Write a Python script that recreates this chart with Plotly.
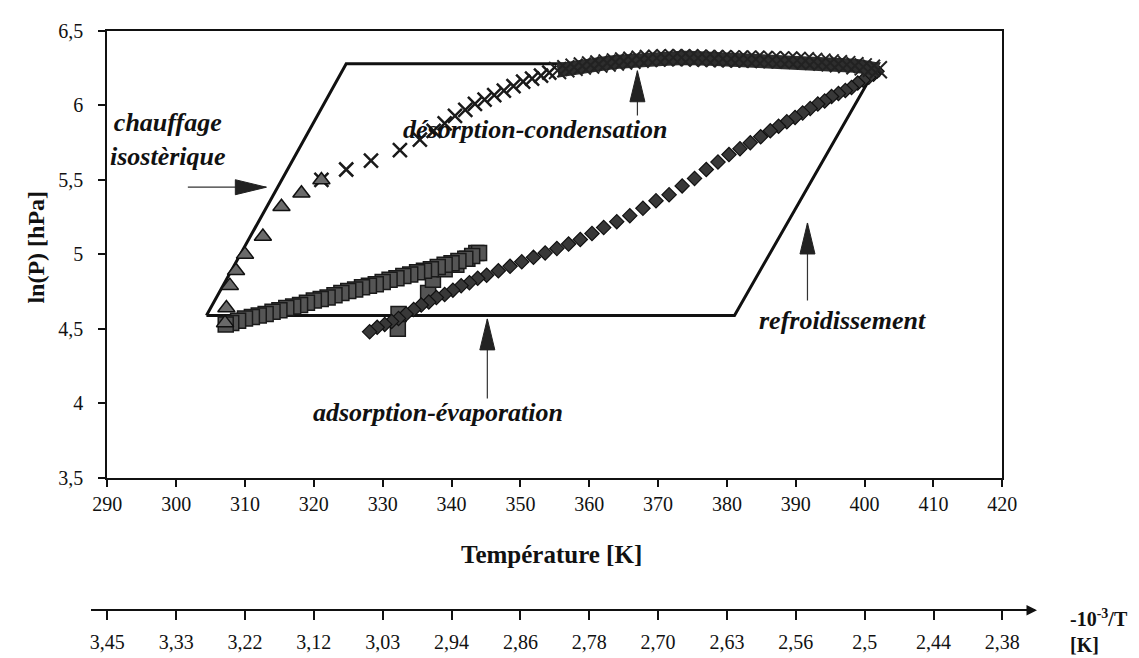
import plotly.graph_objects as go

# ---------------- data ----------------
T_ticks = [290, 300, 310, 320, 330, 340, 350, 360, 370, 380, 390, 400, 410, 420]
invT_labels = ["3,45", "3,33", "3,22", "3,12", "3,03", "2,94", "2,86", "2,78",
               "2,70", "2,63", "2,56", "2,5", "2,44", "2,38"]

# idealised cycle (parallelogram)
cycle_T = [304.4, 324.7, 402.0, 381.1, 304.4]
cycle_lnP = [4.59, 6.28, 6.28, 4.59, 4.59]

# chauffage isostérique (triangles)
tri_T = [307.1, 307.3, 307.8, 308.7, 310.0, 312.6, 315.3, 318.2, 321.1]
tri_lnP = [4.54, 4.64, 4.79, 4.89, 5.00, 5.12, 5.32, 5.41, 5.50]

# désorption-condensation (crosses, sparse part)
cross_T = [321.1, 324.7, 328.3, 332.5, 335.4, 337.4, 339.0, 340.5, 342.0, 343.4,
           344.8, 346.2, 347.6, 349.0, 350.4, 351.7, 353.0, 354.2]
cross_lnP = [5.50, 5.57, 5.63, 5.70, 5.77, 5.83, 5.88, 5.93, 5.97, 6.01,
             6.04, 6.07, 6.10, 6.13, 6.16, 6.18, 6.20, 6.22]

# désorption-condensation (crosses, dense part)
blob_T = [355.4, 356.6, 357.8, 359.0, 360.2, 361.4, 362.6, 363.8, 365.0, 366.2,
          367.4, 368.6, 369.8, 371.0, 372.2, 373.4, 374.6, 375.8, 377.0, 378.2,
          379.4, 380.6, 381.8, 383.0, 384.2, 385.4, 386.6, 387.8, 389.0, 390.2,
          391.4, 392.6, 393.8, 395.0, 396.2, 397.4, 398.6, 399.8, 401.0, 402.0]
blob_lnP = [6.235, 6.247, 6.257, 6.265, 6.272, 6.278, 6.285, 6.292, 6.298, 6.304,
            6.310, 6.315, 6.318, 6.320, 6.321, 6.321, 6.320, 6.318, 6.316, 6.315,
            6.314, 6.313, 6.312, 6.311, 6.310, 6.309, 6.308, 6.306, 6.305, 6.303,
            6.300, 6.296, 6.291, 6.286, 6.280, 6.274, 6.267, 6.259, 6.250, 6.240]

# refroidissement (diamonds)
diam_T = [401.8, 401.3, 400.6, 399.8, 399.0, 398.1, 397.2, 396.2, 395.2, 394.2,
          393.2, 392.1, 391.0, 389.9, 388.7, 387.5, 386.3, 384.9, 383.4, 381.9,
          380.3, 378.7, 377.0, 375.3, 373.5, 371.6, 369.7, 367.8, 365.9, 364.0,
          362.1, 360.4, 358.7, 357.0, 355.3, 353.6, 351.9, 350.2, 348.5, 346.8,
          345.1, 343.8, 342.6, 341.4, 340.2, 339.0, 337.8, 336.7, 335.6, 334.5,
          333.4, 332.3, 331.3, 330.3, 329.2, 328.1]
diam_lnP = [6.23, 6.21, 6.19, 6.17, 6.15, 6.12, 6.10, 6.08, 6.06, 6.03,
            6.01, 5.98, 5.95, 5.92, 5.89, 5.86, 5.83, 5.79, 5.75, 5.71,
            5.67, 5.62, 5.57, 5.51, 5.46, 5.40, 5.36, 5.31, 5.26, 5.22,
            5.18, 5.14, 5.10, 5.07, 5.04, 5.01, 4.98, 4.95, 4.92, 4.89,
            4.86, 4.84, 4.81, 4.79, 4.76, 4.73, 4.71, 4.68, 4.66, 4.63,
            4.60, 4.57, 4.55, 4.53, 4.51, 4.48]

# adsorption-évaporation (squares)
sq_T = [332.2, 332.3, 336.6, 337.3, 339.0, 340.7, 342.3, 343.6,
        344.0, 343.0, 342.0, 341.0, 340.0, 339.0, 338.0, 337.0, 336.0, 335.0,
        334.0, 333.0, 332.0, 331.0, 330.0, 329.0, 328.0, 327.0, 326.0, 325.0,
        324.0, 323.0, 322.0, 321.0, 320.0, 319.0, 318.0, 317.0, 316.0, 315.0,
        314.0, 313.0, 312.0, 311.0, 310.0, 309.0, 308.0, 307.2]
sq_lnP = [4.50, 4.60, 4.74, 4.83, 4.90, 4.93, 4.97, 5.01,
          5.01, 4.99, 4.97, 4.955, 4.94, 4.93, 4.915, 4.90, 4.89, 4.88,
          4.865, 4.855, 4.84, 4.83, 4.815, 4.80, 4.79, 4.78, 4.765, 4.755,
          4.74, 4.725, 4.71, 4.70, 4.69, 4.675, 4.66, 4.65, 4.64, 4.625,
          4.615, 4.60, 4.59, 4.58, 4.57, 4.555, 4.54, 4.53]

# text labels and arrows (data coordinates)
labels = [
    ("chauffage<br>isostèrique", 298.8, 5.77),
    ("désorption-condensation", 352.1, 5.84),
    ("refroidissement", 396.8, 4.556),
    ("adsorption-évaporation", 338.0, 3.94),
]
arrows = [  # (tail T, tail lnP, tip T, tip lnP, direction)
    (301.7, 5.451, 313.1, 5.451, "right"),
    (367.0, 5.933, 367.0, 6.233, "up"),
    (391.7, 4.691, 391.7, 5.211, "up"),
    (345.2, 4.033, 345.2, 4.567, "up"),
]

# ---------------- figure ----------------
FONT = "Liberation Serif"
W, H = 1139, 658
ML, MR, MT, MB = 80, 100, 22, 20
PW, PH = W - ML - MR, H - MT - MB


def px_x(p):
    return (p - ML) / PW


def px_y(p):
    return (H - MB - p) / PH


fig = go.Figure()

fig.add_trace(go.Scatter(x=cycle_T, y=cycle_lnP, mode="lines",
                         line=dict(color="#111", width=3)))
fig.add_trace(go.Scatter(x=sq_T, y=sq_lnP, mode="markers",
                         marker=dict(symbol="square", size=15, color="#555555",
                                     line=dict(color="#1a1a1a", width=1.5))))
fig.add_trace(go.Scatter(x=diam_T, y=diam_lnP, mode="markers",
                         marker=dict(symbol="diamond", size=11, color="#383838",
                                     line=dict(color="#111", width=1.2))))
fig.add_trace(go.Scatter(x=blob_T, y=blob_lnP, mode="lines+markers",
                         line=dict(color="#2e2e2e", width=14),
                         marker=dict(symbol="x-thin", size=17,
                                     line=dict(color="#222", width=2))))
fig.add_trace(go.Scatter(x=cross_T, y=cross_lnP, mode="markers",
                         marker=dict(symbol="x-thin", size=14,
                                     line=dict(color="#1a1a1a", width=2.5))))
fig.add_trace(go.Scatter(x=tri_T, y=tri_lnP, mode="markers",
                         marker=dict(symbol="triangle-up", size=15, color="#6a6a6a",
                                     line=dict(color="#111", width=1.5))))
# empty trace so that the secondary (-1000/T) axis is drawn
fig.add_trace(go.Scatter(x=[], y=[], xaxis="x2", yaxis="y2", mode="markers",
                         hoverinfo="skip"))

shapes = []
for tT, tP, hT, hP, d in arrows:
    shapes.append(dict(type="line", xref="x", yref="y", x0=tT, y0=tP, x1=hT, y1=hP,
                       line=dict(color="#333", width=1.2)))
    path = "M0,0 L-7.5,-31 L7.5,-31 Z" if d == "up" else "M0,0 L-31,7.5 L-31,-7.5 Z"
    shapes.append(dict(type="path", xref="x", yref="y", xsizemode="pixel",
                       ysizemode="pixel", xanchor=hT, yanchor=hP, path=path,
                       fillcolor="#222", line=dict(color="#222", width=1)))

annotations = []
for txt, T, P in labels:
    annotations.append(dict(text=txt, x=T, y=P, xref="x", yref="y", showarrow=False,
                            align="center", xanchor="center", yanchor="middle",
                            font=dict(family=FONT, size=26, color="#111",
                                      weight="bold", style="italic")))

# arrow head at the end of the 1/T axis
annotations.append(dict(x=px_x(1029), y=px_y(605), xref="paper", yref="paper",
                        ax=-14, ay=0, text="", showarrow=True, arrowhead=2,
                        arrowsize=1.4, arrowwidth=1.5, arrowcolor="#111", standoff=0))
annotations.append(dict(text="<b>-10<sup>-3</sup>/T</b><br><b>[K]</b>",
                        x=px_x(1060), y=px_y(626), align="left",
                        xref="paper", yref="paper", xanchor="left", yanchor="middle",
                        showarrow=False, font=dict(family=FONT, size=20, color="#111")))
annotations.append(dict(text="<b>Température [K]</b>", x=px_x(543), y=px_y(549),
                        xref="paper", yref="paper", xanchor="center", yanchor="middle",
                        showarrow=False, font=dict(family=FONT, size=25, color="#111")))
annotations.append(dict(text="<b>ln(P) [hPa]</b>", x=px_x(28), y=px_y(240),
                        xref="paper", yref="paper", xanchor="center", yanchor="middle",
                        showarrow=False, textangle=-90,
                        font=dict(family=FONT, size=24, color="#111")))

tick_font = dict(family=FONT, size=20, color="#111")
fig.update_layout(
    width=W, height=H,
    margin=dict(l=ML, r=MR, t=MT, b=MB, pad=0),
    paper_bgcolor="white", plot_bgcolor="rgba(0,0,0,0)",
    showlegend=False, separators=", ",
    shapes=shapes, annotations=annotations,
    xaxis=dict(domain=[px_x(99.3), px_x(994.3)], range=[290, 420],
               tickvals=T_ticks, ticks="outside", ticklen=7, tickwidth=1.5,
               tickcolor="#111", showline=True, linecolor="#111", linewidth=2,
               mirror=True, showgrid=False, zeroline=False, tickfont=tick_font,
               ticklabelstandoff=0, anchor="y"),
    yaxis=dict(domain=[px_y(471.7), 1], range=[3.5, 6.5], dtick=0.5,
               ticks="outside", ticklen=7, tickwidth=1.5, tickcolor="#111",
               showline=True, linecolor="#111", linewidth=2, mirror=True,
               showgrid=False, zeroline=False, tickfont=tick_font,
               ticklabelstandoff=11, anchor="x"),
    xaxis2=dict(domain=[px_x(83.3), px_x(1027)], range=[287.68, 424.74],
                anchor="free", position=px_y(605),
                tickvals=T_ticks, ticktext=invT_labels, ticks="outside",
                ticklen=9, tickwidth=1.8, tickcolor="#111", showline=True,
                linecolor="#111", linewidth=1.8, showgrid=False, zeroline=False,
                tickfont=tick_font, ticklabelstandoff=5),
    yaxis2=dict(domain=[0, 0.01], anchor="x2", visible=False, range=[0, 1]),
)

fig.write_html("out.html")
